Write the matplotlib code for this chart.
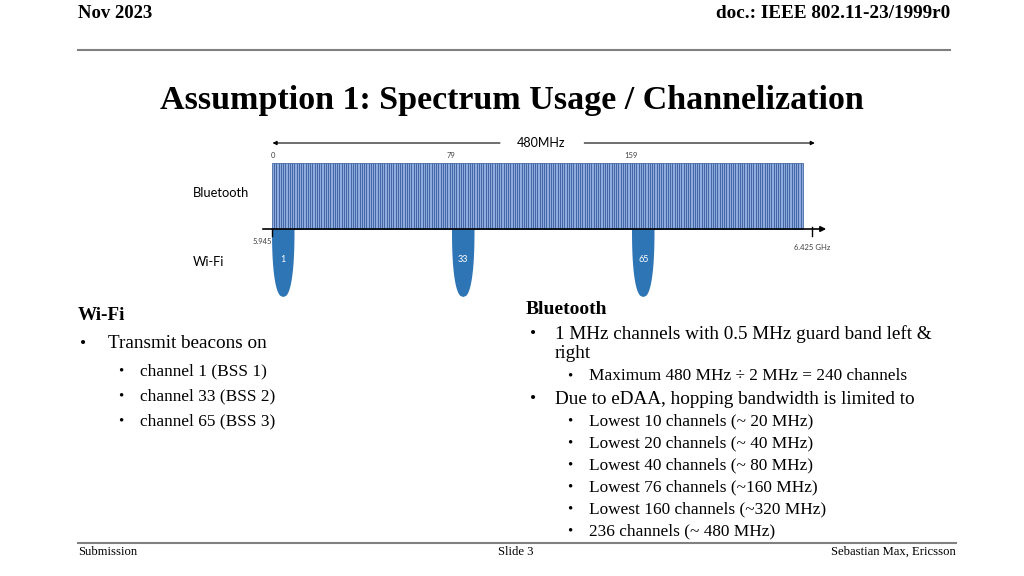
import numpy as np
import matplotlib
matplotlib.use("Agg")
import matplotlib.pyplot as plt
from matplotlib.patches import Polygon

# spectrum data
band_start = 5945          # MHz
band_end = 6425            # MHz
bt_spacing = 2             # MHz per Bluetooth channel
bt_channels = np.arange(236)
bt_label_channels = [0, 79, 159]
wifi_channels = [1, 33, 65]
wifi_width = 20            # MHz

# slide text
header_left = "Nov 2023"
header_right = "doc.: IEEE 802.11-23/1999r0"
title = "Assumption 1: Spectrum Usage / Channelization"
wifi_items = ["channel 1 (BSS 1)", "channel 33 (BSS 2)", "channel 65 (BSS 3)"]
bt_items = ["Lowest 10 channels (~ 20 MHz)", "Lowest 20 channels (~ 40 MHz)",
            "Lowest 40 channels (~ 80 MHz)", "Lowest 76 channels (~160 MHz)",
            "Lowest 160 channels (~320 MHz)", "236 channels (~ 480 MHz)"]

W, H = 1024, 576
fig = plt.figure(figsize=(W / 100, H / 100), dpi=100)
serif = "Liberation Serif"
sans = "Lato"


def fx(x):
    return x / W


def fy(y):
    return 1 - y / H


def txt(x, y, s, size, ha="left", weight="normal", family=serif, color="black"):
    fig.text(fx(x), fy(y), s, fontsize=size, ha=ha, va="center",
             fontweight=weight, family=family, color=color)


# header / footer
txt(78, 13, header_left, 13.5, weight="bold")
txt(950, 13, header_right, 13.8, ha="right", weight="bold")
fig.add_artist(plt.Line2D([fx(78), fx(950)], [fy(50), fy(50)], color="#808080", lw=1.5))
txt(512, 100, title, 24.5, ha="center", weight="bold")
fig.add_artist(plt.Line2D([fx(78), fx(956)], [fy(543), fy(543)], color="#808080", lw=1.5))
txt(78, 552, "Submission", 9.1)
txt(516, 552, "Slide 3", 9.1, ha="center")
txt(956, 552, "Sebastian Max, Ericsson", 9.1, ha="right")

# spectrum diagram axes: 1.125 px per MHz, x=272 px at band start, axis line at y=229 px
scale = 1.125
ax_l, ax_r, ax_t, ax_b = 200, 900, 130, 310
ax = fig.add_axes([fx(ax_l), fy(ax_b), (ax_r - ax_l) / W, (ax_b - ax_t) / H])
ax.set_xlim(band_start - (272 - ax_l) / scale, band_start + (ax_r - 272) / scale)
ax.set_ylim(-(ax_b - 229), 229 - ax_t)
ax.axis("off")

bt_left = band_start + bt_channels * bt_spacing
ax.bar(bt_left, 66, width=bt_spacing, align="edge", color="#8FAADC",
       edgecolor="#2F5597", linewidth=0.5, zorder=2)
for ch in bt_label_channels:
    ax.text(band_start + ch * bt_spacing + 1, 70, str(ch), fontsize=5.5,
            ha="center", va="bottom", family=sans, color="#404040")

# Wi-Fi channels: flat top at the axis, rounded bottom
depth = 68
t = np.linspace(0, 1, 60)
for ch in wifi_channels:
    fc = 5950 + 5 * ch
    half = wifi_width / 2 * (1 - t ** 2.4) ** (1 / 2.4)
    xs = np.concatenate([fc - half, (fc + half)[::-1]])
    ys = np.concatenate([-depth * t, (-depth * t)[::-1]])
    ax.add_patch(Polygon(np.column_stack([xs, ys]), closed=True,
                         facecolor="#2E75B6", edgecolor="none", zorder=1))
    ax.text(fc, -30, str(ch), fontsize=6.5, ha="center", va="center",
            family=sans, color="white", zorder=3)

# frequency axis
ax.annotate("", xy=(band_start + 557 / scale, 0), xytext=(band_start - 12 / scale, 0),
            arrowprops=dict(arrowstyle="-|>", color="black", lw=1.2,
                            mutation_scale=8), zorder=4)
ax.plot([band_start, band_start], [0, -7], color="black", lw=1, zorder=4)
ax.plot([band_end, band_end], [2, -7], color="black", lw=1, zorder=4)
ax.text(band_start - 9, -12, "5.945", fontsize=5.5, ha="center", va="center",
        family=sans, color="#404040")
ax.text(band_end, -18, "6.425 GHz", fontsize=5.5, ha="center", va="center",
        family=sans, color="#404040")

# 480 MHz span arrow
mid = band_start + (541 - 272) / scale
ax.annotate("", xy=(band_start - 2, 86), xytext=(mid - 34, 86),
            arrowprops=dict(arrowstyle="-|>", color="black", lw=0.8, mutation_scale=6))
ax.annotate("", xy=(band_end + 5, 86), xytext=(mid + 36, 86),
            arrowprops=dict(arrowstyle="-|>", color="black", lw=0.8, mutation_scale=6))
ax.text(mid, 86, "480MHz", fontsize=9, ha="center", va="center", family=sans)

txt(193, 193, "Bluetooth", 9.3, family=sans)
txt(193, 262, "Wi-Fi", 9.3, family=sans)

# Wi-Fi bullets
txt(78, 316, "Wi-Fi", 13.8, weight="bold")
txt(80, 344, "\u2022", 12.5)
txt(108, 344, "Transmit beacons on", 13.8)
for i, s in enumerate(wifi_items):
    y = 371 + i * 25
    txt(118, y, "\u2022", 10.5)
    txt(140, y, s, 12.4)

# Bluetooth bullets
txt(526, 309, "Bluetooth", 14, weight="bold")
txt(530, 334, "\u2022", 12.5)
txt(555, 334, "1 MHz channels with 0.5 MHz guard band left &", 13.8)
txt(555, 353, "right", 13.8)
txt(567, 376, "\u2022", 10.5)
txt(589, 376, "Maximum 480 MHz \u00f7 2 MHz = 240 channels", 12.4)
txt(530, 399, "\u2022", 12.5)
txt(555, 399, "Due to eDAA, hopping bandwidth is limited to", 13.8)
for i, s in enumerate(bt_items):
    y = 421 + i * 22
    txt(567, y, "\u2022", 10.5)
    txt(589, y, s, 12.4)

fig.savefig("out.png", dpi=100)
